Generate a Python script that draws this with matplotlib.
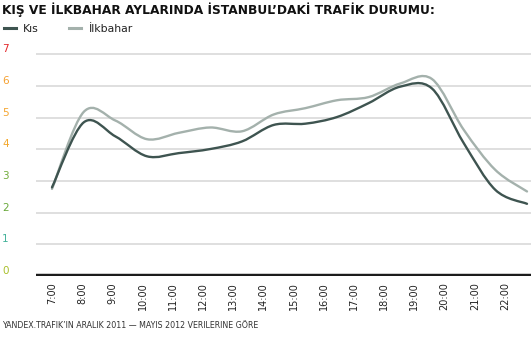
import numpy as np
import matplotlib
matplotlib.use("Agg")
import matplotlib.pyplot as plt
from matplotlib.path import Path
from matplotlib.patches import PathPatch
from matplotlib.lines import Line2D

hours = ["7:00", "8:00", "9:00", "10:00", "11:00", "12:00", "13:00", "14:00",
         "15:00", "16:00", "17:00", "18:00", "19:00", "20:00", "21:00", "22:00"]
kis = [2.80, 4.85, 4.41, 3.78, 3.88, 4.01, 4.25, 4.77, 4.81, 5.02, 5.46, 5.98, 5.92, 4.20, 2.72, 2.28]
ilkbahar = [2.75, 5.18, 4.91, 4.32, 4.52, 4.69, 4.57, 5.10, 5.30, 5.55, 5.65, 6.08, 6.22, 4.62, 3.35, 2.67]
y_labels = ["0", "1", "2", "3", "4", "5", "6", "7"]
y_colors = ["#a9bf2a", "#45b39b", "#68a83a", "#72ad3c", "#f3a82c", "#f5a530", "#f5a030", "#e3262a"]

title = "KIŞ VE İLKBAHAR AYLARINDA İSTANBUL’DAKİ TRAFİK DURUMU:"
footer = "YANDEX.TRAFIK’IN ARALIK 2011 — MAYIS 2012 VERILERINE GÖRE"

W, H = 531, 337
fig = plt.figure(figsize=(W / 100, H / 100), dpi=100)
ax = fig.add_axes([36 / W, (H - 276) / H, 1 - 36 / W, (276 - 48) / H])

def smooth_path(ys):
    x = np.arange(len(ys), dtype=float)
    y = np.asarray(ys, dtype=float)
    pts = np.column_stack([x, y])
    verts = [pts[0]]
    codes = [Path.MOVETO]
    n = len(pts)
    for i in range(n - 1):
        p0 = pts[i - 1] if i > 0 else pts[i]
        p1 = pts[i]
        p2 = pts[i + 1]
        p3 = pts[i + 2] if i + 2 < n else pts[i + 1]
        c1 = p1 + (p2 - p0) / 6.0
        c2 = p2 - (p3 - p1) / 6.0
        verts += [c1, c2, p2]
        codes += [Path.CURVE4] * 3
    return Path(verts, codes)

c_kis = "#3e5450"
c_ilk = "#a4b1ac"

ax.add_patch(PathPatch(smooth_path(ilkbahar), fill=False, edgecolor=c_ilk, lw=1.7,
                       capstyle="round", joinstyle="round", zorder=3))
ax.add_patch(PathPatch(smooth_path(kis), fill=False, edgecolor=c_kis, lw=1.7,
                       capstyle="round", joinstyle="round", zorder=4))

ax.set_xlim(-16 / 31.67, 15 + 4 / 31.67)
ax.set_ylim(0, 7.2)

for v in range(1, 8):
    ax.axhline(v, color="#d6d6d6", lw=1.1, zorder=1)
ax.axhline(0, color="#1c1c1c", lw=3.2, zorder=5)

for s in ax.spines.values():
    s.set_visible(False)
ax.set_yticks([])
tick_pos = np.arange(len(hours)) * (30.2 / 31.67)
ax.set_xticks(tick_pos)
ax.set_xticklabels(hours, rotation=90, fontsize=7.0, color="#222222",
                   va="top", ha="center")
ax.tick_params(axis="x", length=0, pad=4.5)

for v, (lab, col) in enumerate(zip(y_labels, y_colors)):
    ypix = 276 - v * 31.7 - 5
    fig.text(2 / W, 1 - ypix / H, lab, color=col, fontsize=7.5,
             ha="left", va="center")

fig.text(2 / W, 1 - 10 / H, title, fontsize=8.8, fontweight="bold",
         color="#111111", ha="left", va="center", family="DejaVu Sans")

handles = [Line2D([], [], color=c_kis, lw=2.2), Line2D([], [], color=c_ilk, lw=2.2)]
fig.legend(handles, ["Kıs", "İlkbahar"], loc="center left",
           bbox_to_anchor=(-6 / W, 1 - 29 / H), ncol=2, frameon=False,
           fontsize=7.8, handlelength=1.1, handletextpad=0.7, columnspacing=2.8,
           labelcolor="#222222")

fig.text(2 / W, 1 - 326 / H, footer, fontsize=5.7, color="#333333",
         ha="left", va="center")

fig.savefig("out.png", dpi=100, facecolor="white")
